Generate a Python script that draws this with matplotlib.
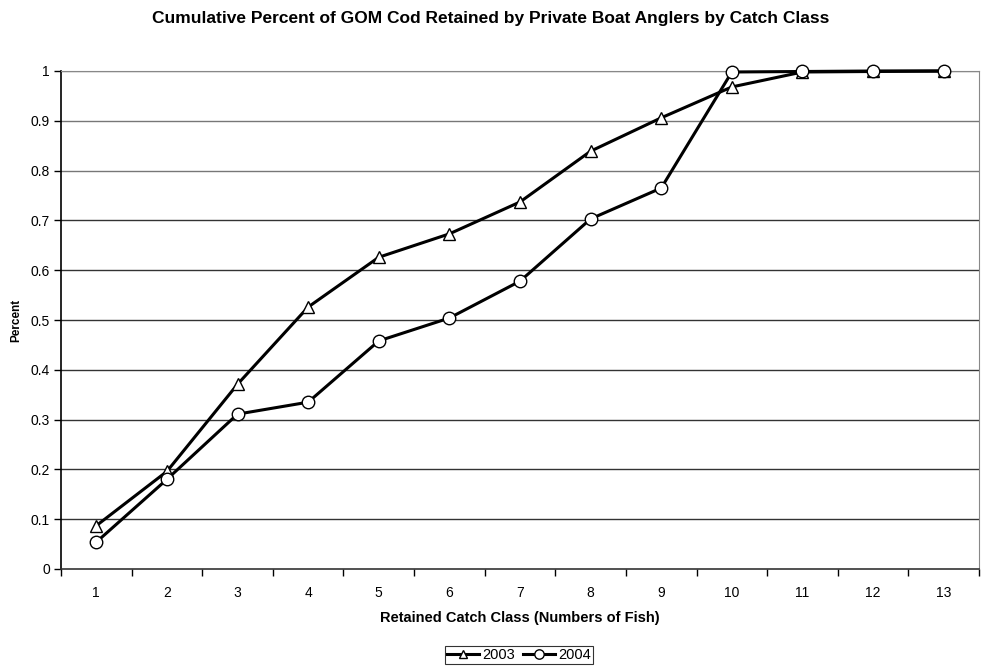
import matplotlib
matplotlib.use("Agg")
import matplotlib.pyplot as plt
from matplotlib.ticker import FixedLocator

plt.rcParams['font.family'] = ['Liberation Sans', 'DejaVu Sans']

catch_class = [1, 2, 3, 4, 5, 6, 7, 8, 9, 10, 11, 12, 13]
pct_2003 = [0.087, 0.196, 0.371, 0.526, 0.626, 0.673, 0.737, 0.839, 0.906, 0.968, 0.998, 0.999, 1.0]
pct_2004 = [0.054, 0.180, 0.311, 0.335, 0.458, 0.504, 0.578, 0.703, 0.765, 0.998, 0.999, 1.0, 1.0]
y_ticks = [0, 0.1, 0.2, 0.3, 0.4, 0.5, 0.6, 0.7, 0.8, 0.9, 1]
y_tick_labels = ['0', '0.1', '0.2', '0.3', '0.4', '0.5', '0.6', '0.7', '0.8', '0.9', '1']

fig = plt.figure(figsize=(9.81, 6.69), dpi=100)
ax = fig.add_axes([61/981, 1 - 569/669, (979-61)/981, (569-71)/669])

for y in y_ticks[1:]:
    ax.axhline(y, color='#333333' if y < 0.75 else '#777777', lw=1.0, zorder=1)

ax.plot(catch_class, pct_2003, color='black', lw=2.2, marker='^', markersize=8,
        markerfacecolor='white', markeredgecolor='black', markeredgewidth=1.0,
        label='2003', zorder=3, clip_on=False)
ax.plot(catch_class, pct_2004, color='black', lw=2.2, marker='o', markersize=9,
        markerfacecolor='white', markeredgecolor='black', markeredgewidth=1.0,
        label='2004', zorder=4, clip_on=False)

ax.set_xlim(0.5, 13.5)
ax.set_ylim(0, 1)
ax.set_yticks(y_ticks)
ax.set_yticklabels(y_tick_labels, fontsize=10)
ax.set_xticks(catch_class)
ax.set_xticklabels([str(c) for c in catch_class], fontsize=10)
ax.tick_params(axis='x', which='major', length=0, pad=12)
ax.xaxis.set_minor_locator(FixedLocator([c + 0.5 for c in [0] + catch_class]))
ax.tick_params(axis='x', which='minor', length=5, width=1, direction='out', color='black')
ax.tick_params(axis='y', length=5, width=1, direction='out', pad=3)

ax.spines['left'].set_color('black')
ax.spines['left'].set_linewidth(1.2)
ax.spines['bottom'].set_color('#333333')
ax.spines['bottom'].set_linewidth(1.2)
ax.spines['top'].set_color('#888888')
ax.spines['right'].set_color('#888888')

ax.set_xlabel('Retained Catch Class (Numbers of Fish)', fontsize=10.5, fontweight='bold', labelpad=8)
ax.set_ylabel('Percent', fontsize=8.5, fontweight='bold', labelpad=6)
fig.suptitle('Cumulative Percent of GOM Cod Retained by Private Boat Anglers by Catch Class',
             fontsize=12.5, fontweight='bold', y=1 - 18/669, va='center')

leg = fig.legend(loc='center', bbox_to_anchor=(519/981, 1 - 655/669), ncol=2,
                 fontsize=10.5, frameon=True, fancybox=False, edgecolor='black',
                 handlelength=2.2, handletextpad=0.2, columnspacing=0.6,
                 borderpad=0.15, markerscale=0.75)
leg.get_frame().set_linewidth(0.8)

fig.savefig('out.png', dpi=100)
